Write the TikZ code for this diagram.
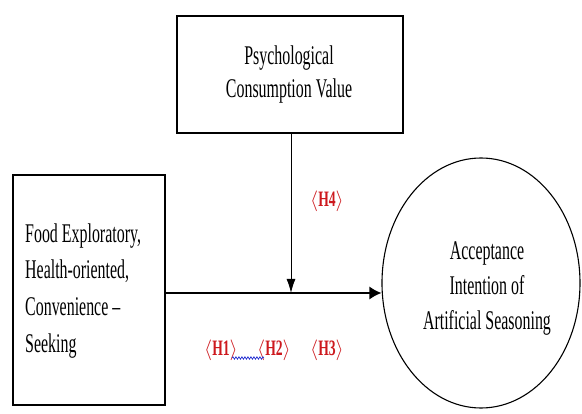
\documentclass[tikz,border=0pt]{standalone}
\usepackage{fontspec}
\setmainfont{Liberation Serif}
\newfontfamily\condfont[FakeStretch=0.59]{Liberation Serif}
\newfontfamily\condbold[FakeStretch=0.62]{Liberation Serif Bold}
\usetikzlibrary{arrows.meta,shapes.geometric,decorations.pathmorphing}
\definecolor{hred}{RGB}{205,25,30}
\definecolor{squig}{RGB}{40,50,210}
\begin{document}
\begin{tikzpicture}[x=1pt,y=-1pt,
  boxnode/.style={draw,line width=1.2pt,inner sep=0pt},
  txt/.style={font=\condfont\fontsize{27}{30}\selectfont,inner sep=0pt,anchor=base},
  ltxt/.style={txt,anchor=base west},
  hlab/.style={text=hred,font=\condbold\fontsize{22}{24}\selectfont,inner sep=0pt,anchor=base},
  conn/.style={line width=1.4pt,-{Latex[length=12pt,width=13pt]}}]
\useasboundingbox (0,0) rectangle (582,414);
% top box
\node[boxnode,minimum width=226pt,minimum height=117pt] (pcv) at (290,74.5) {};
\node[txt] (pcv1) at (289,65) {Psychological};
\node[txt] (pcv2) at (289,98) {Consumption Value};
% left box
\node[boxnode,minimum width=152pt,minimum height=230pt] (fe) at (89,290) {};
\node[ltxt] (fe1) at (25,243) {Food Exploratory,};
\node[ltxt] (fe2) at (25,279) {Health-oriented,};
\node[ltxt] (fe3) at (25,316) {Convenience –};
\node[ltxt] (fe4) at (25,353) {Seeking};
% ellipse
\node[draw,ellipse,line width=1.1pt,minimum width=198pt,minimum height=250pt,inner sep=0pt] (ai) at (481,283) {};
\node[txt] (ai1) at (487,260) {Acceptance};
\node[txt] (ai2) at (487,295) {Intention of};
\node[txt] (ai3) at (487,330) {Artificial Seasoning};
% connectors
\coordinate (mid) at (165,293);
\coordinate (jn) at (291,293);
\draw[conn] (fe.east |- mid) -- (ai.west |- mid);
\draw[line width=1pt,-{Latex[length=14pt,width=9pt]}] (pcv.south -| jn) -- (jn);
% labels
\node[hlab] (h4) at (327,207) {$\langle$H4$\rangle$};
\node[hlab] (h1) at (221,356) {$\langle$H1$\rangle$};
\node[hlab] (h2) at (274,356) {$\langle$H2$\rangle$};
\node[hlab] (h3) at (327,356) {$\langle$H3$\rangle$};
\coordinate (sq1) at (232,358);
\coordinate (sq2) at (264,358);
\draw[squig,line width=0.7pt,decorate,decoration={snake,amplitude=1.2pt,segment length=3pt}] (sq1) -- (sq2);
\end{tikzpicture}
\end{document}
